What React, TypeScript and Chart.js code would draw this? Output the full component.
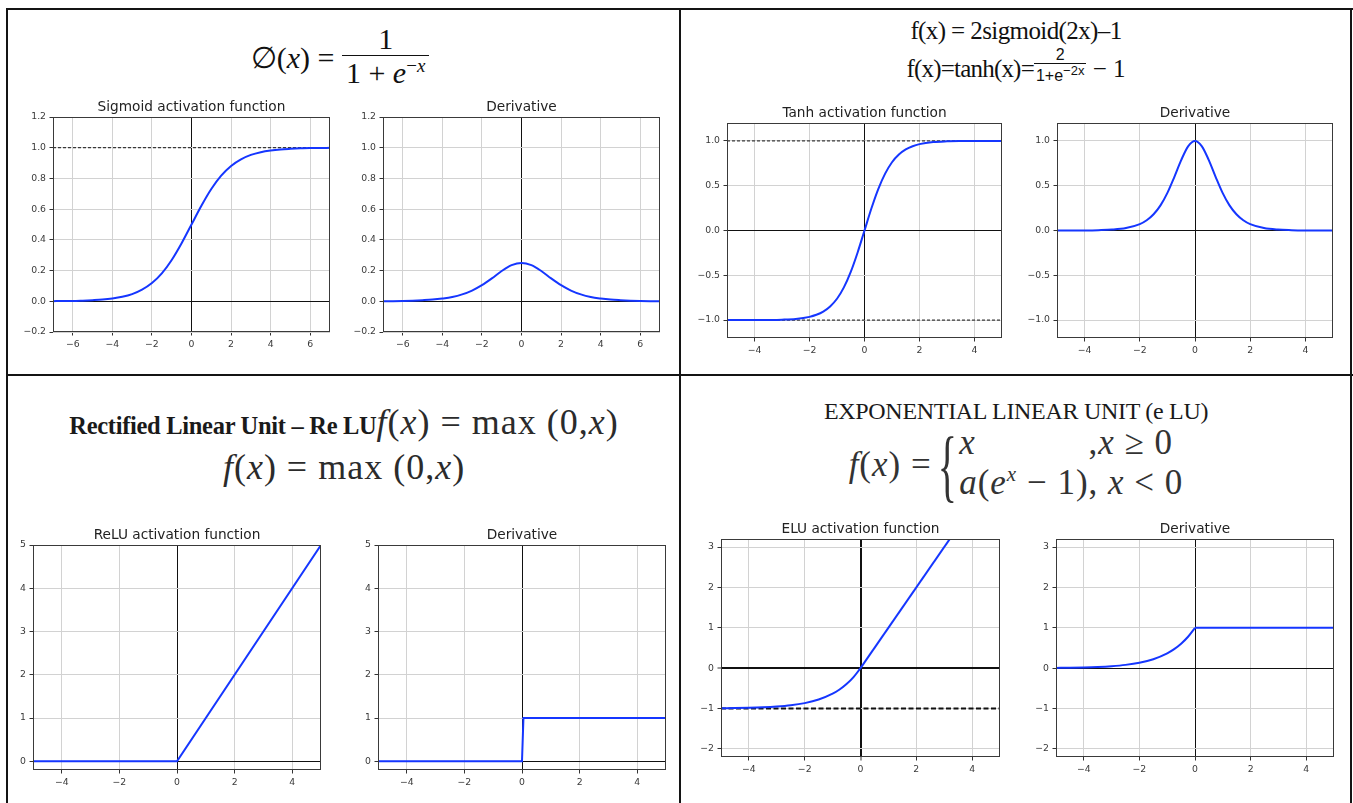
import React, { useEffect, useRef } from "react";
import { Chart, registerables } from "chart.js";

Chart.register(...registerables);

// ---------------- Sigmoid ----------------
const sigmoidX = [-7, -6.5, -6, -5.5, -5, -4.5, -4, -3.5, -3, -2.5, -2, -1.5, -1, -0.5, 0, 0.5, 1, 1.5, 2, 2.5, 3, 3.5, 4, 4.5, 5, 5.5, 6, 6.5, 7];
const sigmoidY = [0.001, 0.002, 0.002, 0.004, 0.007, 0.011, 0.018, 0.029, 0.047, 0.076, 0.119, 0.182, 0.269, 0.378, 0.5, 0.622, 0.731, 0.818, 0.881, 0.924, 0.953, 0.971, 0.982, 0.989, 0.993, 0.996, 0.998, 0.998, 0.999];
const sigmoidDerivY = [0.001, 0.001, 0.002, 0.004, 0.007, 0.011, 0.018, 0.028, 0.045, 0.07, 0.105, 0.149, 0.197, 0.235, 0.25, 0.235, 0.197, 0.149, 0.105, 0.07, 0.045, 0.028, 0.018, 0.011, 0.007, 0.004, 0.002, 0.001, 0.001];
const sigmoidXLimits = [-7, 7];
const sigmoidYLimits = [-0.2, 1.2];
const sigmoidXTicks = [-6, -4, -2, 0, 2, 4, 6];
const sigmoidXTickLabels = ["−6", "−4", "−2", "0", "2", "4", "6"];
const sigmoidYTicks = [-0.2, 0, 0.2, 0.4, 0.6, 0.8, 1.0, 1.2];
const sigmoidYTickLabels = ["−0.2", "0.0", "0.2", "0.4", "0.6", "0.8", "1.0", "1.2"];
const sigmoidAsymptotes = [1.0];

// ---------------- Tanh ----------------
const tanhX = [-5, -4.5, -4, -3.5, -3, -2.5, -2, -1.75, -1.5, -1.25, -1, -0.75, -0.5, -0.25, 0, 0.25, 0.5, 0.75, 1, 1.25, 1.5, 1.75, 2, 2.5, 3, 3.5, 4, 4.5, 5];
const tanhY = [-1.0, -1.0, -0.999, -0.998, -0.995, -0.987, -0.964, -0.941, -0.905, -0.848, -0.762, -0.635, -0.462, -0.245, 0, 0.245, 0.462, 0.635, 0.762, 0.848, 0.905, 0.941, 0.964, 0.987, 0.995, 0.998, 0.999, 1.0, 1.0];
const tanhDerivY = [0.0, 0.0, 0.001, 0.004, 0.01, 0.027, 0.071, 0.114, 0.181, 0.28, 0.42, 0.597, 0.786, 0.94, 1.0, 0.94, 0.786, 0.597, 0.42, 0.28, 0.181, 0.114, 0.071, 0.027, 0.01, 0.004, 0.001, 0.0, 0.0];
const tanhXLimits = [-5, 5];
const tanhYLimits = [-1.2, 1.2];
const tanhXTicks = [-4, -2, 0, 2, 4];
const tanhXTickLabels = ["−4", "−2", "0", "2", "4"];
const tanhYTicks = [-1.0, -0.5, 0, 0.5, 1.0];
const tanhYTickLabels = ["−1.0", "−0.5", "0.0", "0.5", "1.0"];
const tanhAsymptotes = [1.0, -1.0];

// ---------------- ReLU ----------------
const reluX = [-5, 0, 5];
const reluY = [0, 0, 5];
const reluDerivX = [-5, 0, 0.05, 5];
const reluDerivY = [0, 0, 1, 1];
const reluXLimits = [-5, 5];
const reluYLimits = [-0.2, 5];
const reluXTicks = [-4, -2, 0, 2, 4];
const reluXTickLabels = ["−4", "−2", "0", "2", "4"];
const reluYTicks = [0, 1, 2, 3, 4, 5];
const reluYTickLabels = ["0", "1", "2", "3", "4", "5"];

// ---------------- ELU ----------------
const eluNegX = [-5, -4.5, -4, -3.5, -3, -2.5, -2, -1.5, -1, -0.75, -0.5, -0.25, 0];
const eluNegY = [-0.993, -0.989, -0.982, -0.97, -0.95, -0.918, -0.865, -0.777, -0.632, -0.528, -0.393, -0.221, 0];
const eluPosX = [0, 5];
const eluPosY = [0, 5];
const eluDerivNegY = [0.007, 0.011, 0.018, 0.03, 0.05, 0.082, 0.135, 0.223, 0.368, 0.472, 0.607, 0.779, 1.0];
const eluDerivPosY = [1, 1];
const eluXLimits = [-5, 5];
const eluYLimits = [-2.2, 3.2];
const eluXTicks = [-4, -2, 0, 2, 4];
const eluXTickLabels = ["−4", "−2", "0", "2", "4"];
const eluYTicks = [-2, -1, 0, 1, 2, 3];
const eluYTickLabels = ["−2", "−1", "0", "1", "2", "3"];
const eluAsymptotes = [-1.0];

// ---------------- styling / layout ----------------
const BLUE = "#1536ff";
const SANS = "'DejaVu Sans', sans-serif";
const SERIF = "'Liberation Serif', 'Times New Roman', serif";
const PAD_L = 40;
const PAD_R = 40;
const PAD_T = 22;
const PAD_B = 20;
const TITLE_SIZE = 13.7;

type Axis = { limits: number[]; ticks: number[]; labels: string[] };
type Series = { xs: number[]; ys: number[]; smooth: boolean };
type Panel = {
  title: string;
  box: number[]; // plot area [left, top, right, bottom] in page px
  x: Axis;
  y: Axis;
  series: Series[];
  refLines: number[];
  zeroWidth: number;
  dash: number[];
  dashWidth: number;
};

const framePlugin = {
  id: "frame",
  afterDatasetsDraw(chart: any) {
    const { ctx, chartArea: a } = chart;
    ctx.save();
    ctx.strokeStyle = "#3a3a3a";
    ctx.lineWidth = 1;
    ctx.strokeRect(Math.round(a.left) + 0.5, Math.round(a.top) + 0.5, Math.round(a.right - a.left) - 1, Math.round(a.bottom - a.top) - 1);
    ctx.restore();
  },
};

function makeAxis(a: Axis, isX: boolean, zeroWidth: number) {
  return {
    type: "linear",
    min: a.limits[0],
    max: a.limits[1],
    afterBuildTicks: (s: any) => {
      s.ticks = a.ticks.map((v) => ({ value: v }));
    },
    afterFit: (s: any) => {
      if (isX) s.height = PAD_B;
      else s.width = PAD_L;
    },
    ticks: {
      autoSkip: false,
      maxRotation: 0,
      minRotation: 0,
      padding: 3.5,
      font: { family: SANS, size: 9.3 },
      color: "#3a3a3a",
      callback: (_v: any, i: number) => a.labels[i],
    },
    grid: {
      color: (c: any) => (c.tick && c.tick.value === 0 ? "#111" : "#d2d2d2"),
      lineWidth: (c: any) => (c.tick && c.tick.value === 0 ? zeroWidth : 1),
      drawTicks: true,
      tickLength: 3.5,
      tickColor: "#333",
      tickWidth: 1,
    },
    border: { display: false },
  };
}

function makeConfig(p: Panel): any {
  const curves = p.series.map((s) => ({
    data: s.xs.map((x, i) => ({ x, y: s.ys[i] })),
    borderColor: BLUE,
    borderWidth: 2,
    pointRadius: 0,
    fill: false,
    tension: 0,
    cubicInterpolationMode: s.smooth ? "monotone" : "default",
  }));
  const refs = p.refLines.map((y) => ({
    data: [
      { x: p.x.limits[0], y },
      { x: p.x.limits[1], y },
    ],
    borderColor: "#111",
    borderWidth: p.dashWidth,
    borderDash: p.dash,
    pointRadius: 0,
    fill: false,
  }));
  return {
    type: "line",
    data: { datasets: [...curves, ...refs] },
    options: {
      responsive: false,
      animation: false,
      devicePixelRatio: 1,
      events: [],
      layout: { padding: { left: 0, right: PAD_R, top: 0, bottom: 0 } },
      plugins: {
        legend: { display: false },
        tooltip: { enabled: false },
        title: {
          display: true,
          fullSize: false,
          text: p.title,
          color: "#222",
          font: { family: SANS, size: TITLE_SIZE, weight: "normal", lineHeight: 1.2 },
          padding: { top: 4, bottom: PAD_T - 4 - TITLE_SIZE * 1.2 },
        },
      },
      scales: {
        x: makeAxis(p.x, true, p.zeroWidth),
        y: makeAxis(p.y, false, p.zeroWidth),
      },
    },
    plugins: [framePlugin],
  };
}

function ChartPanel({ p }: { p: Panel }) {
  const ref = useRef<HTMLCanvasElement>(null);
  useEffect(() => {
    const chart = new Chart(ref.current as HTMLCanvasElement, makeConfig(p));
    return () => chart.destroy();
  }, []);
  const [l, t, r, b] = p.box;
  const W = r - l + PAD_L + PAD_R;
  const H = b - t + PAD_T + PAD_B;
  return (
    <canvas
      ref={ref}
      width={W}
      height={H}
      style={{ position: "absolute", left: l - PAD_L, top: t - PAD_T, width: W, height: H }}
    />
  );
}

const sigAxisX = { limits: sigmoidXLimits, ticks: sigmoidXTicks, labels: sigmoidXTickLabels };
const sigAxisY = { limits: sigmoidYLimits, ticks: sigmoidYTicks, labels: sigmoidYTickLabels };
const tanhAxisX = { limits: tanhXLimits, ticks: tanhXTicks, labels: tanhXTickLabels };
const tanhAxisY = { limits: tanhYLimits, ticks: tanhYTicks, labels: tanhYTickLabels };
const reluAxisX = { limits: reluXLimits, ticks: reluXTicks, labels: reluXTickLabels };
const reluAxisY = { limits: reluYLimits, ticks: reluYTicks, labels: reluYTickLabels };
const eluAxisX = { limits: eluXLimits, ticks: eluXTicks, labels: eluXTickLabels };
const eluAxisY = { limits: eluYLimits, ticks: eluYTicks, labels: eluYTickLabels };

const panels: Panel[] = [
  { title: "Sigmoid activation function", box: [53, 117, 330, 332], x: sigAxisX, y: sigAxisY, series: [{ xs: sigmoidX, ys: sigmoidY, smooth: true }], refLines: sigmoidAsymptotes, zeroWidth: 1, dash: [3, 2], dashWidth: 1 },
  { title: "Derivative", box: [383, 117, 660, 332], x: sigAxisX, y: sigAxisY, series: [{ xs: sigmoidX, ys: sigmoidDerivY, smooth: true }], refLines: [], zeroWidth: 1, dash: [3, 2], dashWidth: 1 },
  { title: "Tanh activation function", box: [727, 123, 1002, 338], x: tanhAxisX, y: tanhAxisY, series: [{ xs: tanhX, ys: tanhY, smooth: true }], refLines: tanhAsymptotes, zeroWidth: 1, dash: [3, 2], dashWidth: 1 },
  { title: "Derivative", box: [1057, 123, 1333, 338], x: tanhAxisX, y: tanhAxisY, series: [{ xs: tanhX, ys: tanhDerivY, smooth: true }], refLines: [], zeroWidth: 1, dash: [3, 2], dashWidth: 1 },
  { title: "ReLU activation function", box: [33, 545, 321, 770], x: reluAxisX, y: reluAxisY, series: [{ xs: reluX, ys: reluY, smooth: false }], refLines: [], zeroWidth: 1, dash: [3, 2], dashWidth: 1 },
  { title: "Derivative", box: [378, 545, 666, 770], x: reluAxisX, y: reluAxisY, series: [{ xs: reluDerivX, ys: reluDerivY, smooth: false }], refLines: [], zeroWidth: 1, dash: [3, 2], dashWidth: 1 },
  { title: "ELU activation function", box: [721, 539, 1000, 757], x: eluAxisX, y: eluAxisY, series: [{ xs: eluNegX, ys: eluNegY, smooth: true }, { xs: eluPosX, ys: eluPosY, smooth: false }], refLines: eluAsymptotes, zeroWidth: 2, dash: [5, 2.5], dashWidth: 2 },
  { title: "Derivative", box: [1056, 539, 1334, 757], x: eluAxisX, y: eluAxisY, series: [{ xs: eluNegX, ys: eluDerivNegY, smooth: true }, { xs: eluPosX, ys: eluDerivPosY, smooth: false }], refLines: [], zeroWidth: 1, dash: [3, 2], dashWidth: 1 },
];

const line = (left: number, top: number, width: number, height: number) => (
  <div style={{ position: "absolute", left, top, width, height, background: "#141414" }} />
);

export default function App() {
  return (
    <div style={{ position: "absolute", left: 0, top: 0, width: 1353, height: 803, background: "#fff", overflow: "hidden" }}>
      {/* table borders */}
      {line(6, 8, 1347, 2)}
      {line(6, 8, 2, 795)}
      {line(679, 8, 2, 795)}
      {line(1350, 8, 2, 795)}
      {line(6, 374, 1347, 2)}

      {/* Sigmoid formula */}
      <div style={{ position: "absolute", left: 190, top: 23, width: 300, height: 68, display: "flex", alignItems: "center", justifyContent: "center", fontFamily: SERIF, fontSize: 30, color: "#111" }}>
        <span>
          ∅(<i>x</i>)&nbsp;=&nbsp;
        </span>
        <span style={{ display: "inline-flex", flexDirection: "column", alignItems: "center" }}>
          <span style={{ lineHeight: "33px", padding: "0 4px" }}>1</span>
          <span style={{ lineHeight: "33px", borderTop: "1.4px solid #111", padding: "0 4px" }}>
            1 + <i>e</i>
            <span style={{ fontSize: 19, position: "relative", top: -11 }}>
              −<i>x</i>
            </span>
          </span>
        </span>
      </div>

      {/* Tanh formulas */}
      <div style={{ position: "absolute", left: 866, top: 15, width: 300, textAlign: "center", fontFamily: SERIF, fontSize: 25, lineHeight: "32px", letterSpacing: -0.6, color: "#111" }}>
        f(x) = 2sigmoid(2x)–1
      </div>
      <div style={{ position: "absolute", left: 866, top: 46, width: 300, height: 46, display: "flex", alignItems: "center", justifyContent: "center", fontFamily: SERIF, fontSize: 25, color: "#111" }}>
        <span style={{ letterSpacing: -0.8 }}>f(x)=tanh(x)=</span>
        <span style={{ display: "inline-flex", flexDirection: "column", alignItems: "center", fontFamily: "'Liberation Sans', Arial, sans-serif", fontSize: 16, position: "relative", top: -2 }}>
          <span style={{ lineHeight: "16px" }}>2</span>
          <span style={{ lineHeight: "20px", borderTop: "1px solid #111", padding: "2px 2px 0 2px" }}>
            1+e
            <span style={{ fontSize: 13, position: "relative", top: -6 }}>−2x</span>
          </span>
        </span>
        <span>&nbsp;− 1</span>
      </div>

      {/* ReLU formulas */}
      <div style={{ position: "absolute", left: 24, top: 398, width: 640, textAlign: "center", lineHeight: "48px", whiteSpace: "nowrap" }}>
        <span style={{ fontFamily: SERIF, fontWeight: "bold", fontSize: 24.5, color: "#1a1a1a", letterSpacing: -0.3 }}>Rectified Linear Unit – Re LU</span>
        <span style={{ fontFamily: SERIF, fontSize: 36, color: "#2b2b2b", letterSpacing: 1 }}>
          <i>f</i>(<i>x</i>) = max (0,<i>x</i>)
        </span>
      </div>
      <div style={{ position: "absolute", left: 24, top: 443, width: 640, textAlign: "center", lineHeight: "48px", fontFamily: SERIF, fontSize: 36, color: "#2b2b2b", letterSpacing: 1 }}>
        <i>f</i>(<i>x</i>) = max (0,<i>x</i>)
      </div>

      {/* ELU formulas */}
      <div style={{ position: "absolute", left: 716, top: 397, width: 600, textAlign: "center", fontFamily: SERIF, fontSize: 24, lineHeight: "28px", color: "#1a1a1a", letterSpacing: -0.3 }}>
        EXPONENTIAL LINEAR UNIT (e LU)
      </div>
      <div style={{ position: "absolute", left: 716, top: 425, width: 600, height: 80, display: "flex", alignItems: "center", justifyContent: "center", fontFamily: SERIF, fontSize: 35, color: "#333", letterSpacing: 1 }}>
        <span>
          <i>f</i>(<i>x</i>) =
        </span>
        <span style={{ display: "inline-block", fontSize: 80, lineHeight: "80px", transform: "scaleX(0.5)", margin: "0 -8px 0 -4px" }}>{"{"}</span>
        <div style={{ display: "grid", gridTemplateColumns: "auto auto", lineHeight: "40px" }}>
          <span>
            <i>x</i>
          </span>
          <span>
            ,<i>x</i> ≥ 0
          </span>
          <span>
            <i>a</i>(<i>e</i>
            <span style={{ fontSize: 21, position: "relative", top: -13 }}>
              <i>x</i>
            </span>{" "}
            − 1)
          </span>
          <span>
            ,&nbsp;<i>x</i> &lt; 0
          </span>
        </div>
      </div>

      {panels.map((p, i) => (
        <ChartPanel key={i} p={p} />
      ))}
    </div>
  );
}
